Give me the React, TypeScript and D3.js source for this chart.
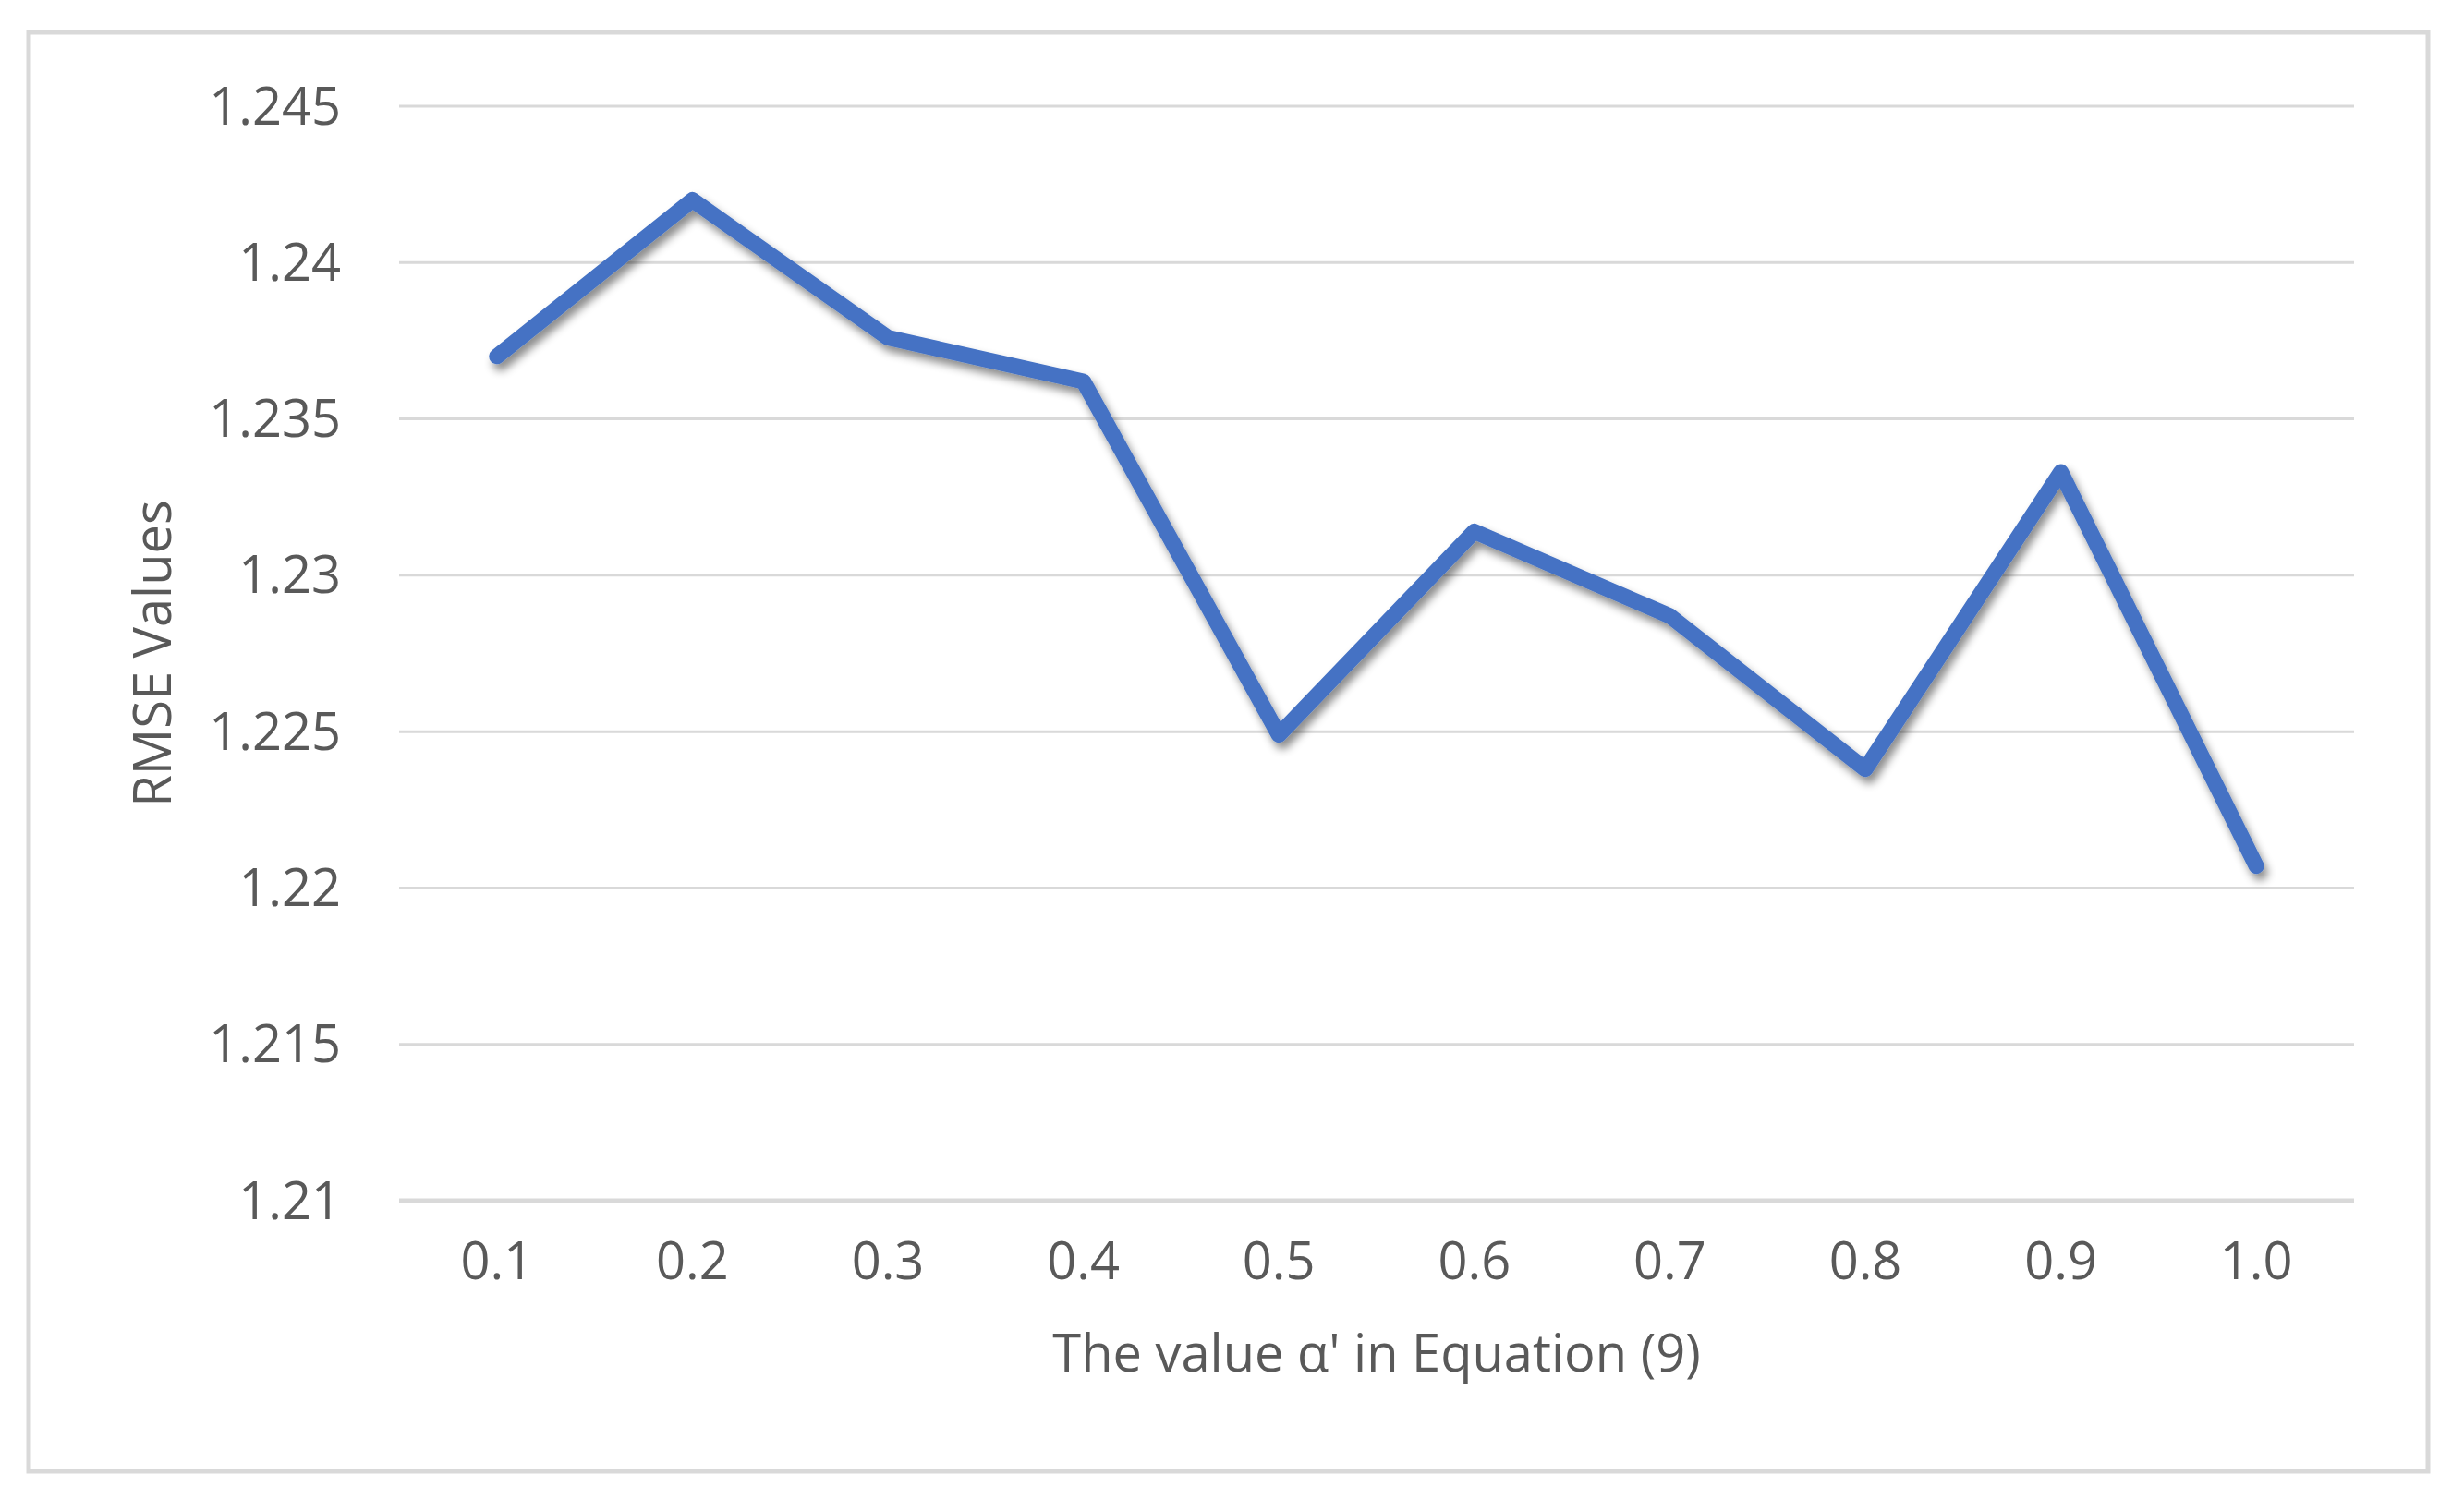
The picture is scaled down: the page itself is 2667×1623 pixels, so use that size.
import React from "react";
import * as d3 from "d3";

const categories: string[] = ["0.1", "0.2", "0.3", "0.4", "0.5", "0.6", "0.7", "0.8", "0.9", "1.0"];
const rmseValues: number[] = [1.237, 1.242, 1.2376, 1.2362, 1.2249, 1.2314, 1.2287, 1.2238, 1.2333, 1.2207];
const yTicks: number[] = [1.21, 1.215, 1.22, 1.225, 1.23, 1.235, 1.24, 1.245];
const yTickLabels: string[] = ["1.21", "1.215", "1.22", "1.225", "1.23", "1.235", "1.24", "1.245"];
const xTitle = "The value α' in Equation (9)";
const yTitle = "RMSE Values";

const W = 2667;
const H = 1623;
const plotLeft = 432;
const plotRight = 2548;
const plotTop = 115;
const plotBottom = 1300;
const textColor = "#595959";
const gridColor = "#d9d9d9";
const lineColor = "#4472C4";
const font = "'Open Sans', 'Noto Sans', sans-serif";
const fontSize = 56;

export default function App() {
  const x = d3.scaleBand<string>().domain(categories).range([plotLeft, plotRight]);
  const y = d3.scaleLinear().domain([1.21, 1.245]).range([plotBottom, plotTop]);
  const cx = (c: string) => (x(c) as number) + x.bandwidth() / 2;

  const line = d3
    .line<number>()
    .x((_, i) => cx(categories[i]))
    .y((d) => y(d));

  return (
    <svg
      width={W}
      height={H}
      style={{ position: "absolute", left: 0, top: 0, background: "#ffffff" }}
      fontFamily={font}
    >
      <defs>
        <filter id="shadow" x="-10%" y="-10%" width="120%" height="130%">
          <feDropShadow dx="4" dy="7" stdDeviation="5" floodColor="#000000" floodOpacity="0.45" />
        </filter>
      </defs>
      <rect x={0} y={0} width={W} height={H} fill="#ffffff" />
      <rect x={31} y={35} width={2597} height={1558} fill="#ffffff" stroke={gridColor} strokeWidth={5} />

      {yTicks.map((t, i) => (
        <g key={t}>
          <line
            x1={plotLeft}
            x2={plotRight}
            y1={y(t)}
            y2={y(t)}
            stroke={gridColor}
            strokeWidth={i === 0 ? 5 : 3}
          />
          <text
            x={369}
            y={y(t)}
            dy="0.35em"
            textAnchor="end"
            fontSize={fontSize}
            fill={textColor}
          >
            {yTickLabels[i]}
          </text>
        </g>
      ))}

      {categories.map((c) => (
        <text key={c} x={cx(c)} y={1385} textAnchor="middle" fontSize={fontSize} fill={textColor}>
          {c}
        </text>
      ))}

      <path
        d={line(rmseValues) || ""}
        fill="none"
        stroke={lineColor}
        strokeWidth={17}
        strokeLinecap="round"
        strokeLinejoin="round"
        filter="url(#shadow)"
      />

      <text
        x={(plotLeft + plotRight) / 2}
        y={1485}
        textAnchor="middle"
        fontSize={fontSize}
        fill={textColor}
      >
        {xTitle}
      </text>

      <text
        transform={`translate(185, ${(plotTop + plotBottom) / 2}) rotate(-90)`}
        textAnchor="middle"
        fontSize={fontSize}
        fill={textColor}
      >
        {yTitle}
      </text>
    </svg>
  );
}
